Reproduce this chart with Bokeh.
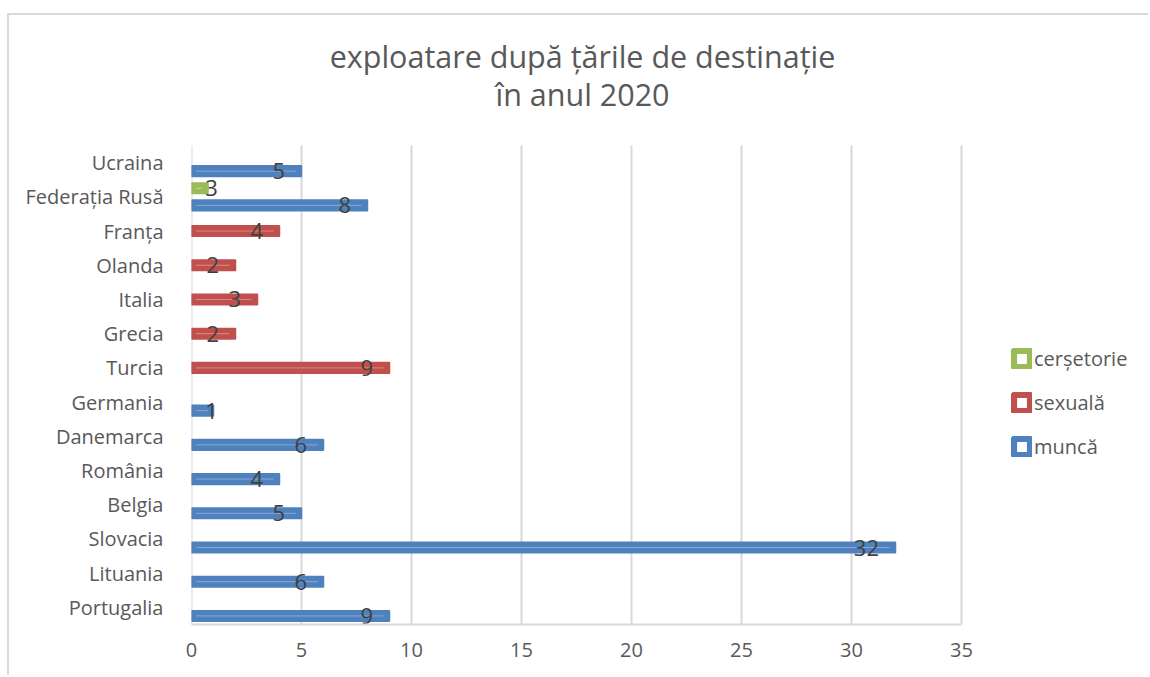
from bokeh.plotting import figure
from bokeh.models import (ColumnDataSource, Range1d, FixedTicker,
                          Legend, LegendItem, Label)
from bokeh.transform import dodge
from bokeh.core.properties import value
from bokeh.embed import file_html
from bokeh.resources import INLINE

# ---------------- data (bottom to top) ----------------
tari = ["Portugalia", "Lituania", "Slovacia", "Belgia", "România", "Danemarca",
        "Germania", "Turcia", "Grecia", "Italia", "Olanda", "Franța",
        "Federația Rusă", "Ucraina"]
munca = [9, 6, 32, 5, 4, 6, 1, None, None, None, None, None, 8, 5]
sexuala = [None, None, None, None, None, None, None, 9, 2, 3, 2, 4, None, None]
# bar length as drawn in the picture, and the label that the picture shows
cersetorie = [None] * 12 + [0.75, None]
cersetorie_etichete = [None] * 12 + ["3", None]

serii = ["cerșetorie", "sexuală", "muncă"]
x_ticks = [0, 5, 10, 15, 20, 25, 30, 35]
titlu = ["exploatare după țările de destinație", "în anul 2020"]

culori = {"muncă": "#4f81bd", "sexuală": "#c0504d", "cerșetorie": "#9bbb59"}
luminoase = {"muncă": "#86a9d8", "sexuală": "#dc8a88", "cerșetorie": "#c3d89a"}
deplasari = {"muncă": -0.25, "sexuală": 0.0, "cerșetorie": 0.25}

FONT = "Open Sans"
GRAY = "#595959"

W, H = 1141, 662
X_END = 43.59      # frame extends to the right edge (legend lives inside it)
Y_END = 17.8       # frame extends to the top edge (title lives inside it)

p = figure(width=W, height=H, output_backend="svg", toolbar_location=None,
           x_range=Range1d(0, X_END), y_range=Range1d(0, Y_END),
           min_border_left=182, min_border_right=0, min_border_top=0,
           min_border_bottom=53, outline_line_color=None)
p.styles = {"margin-left": "7px", "margin-top": "13px",
            "border-top": "2px solid #d9d9d9",
            "border-left": "2px solid #d9d9d9"}

p.xgrid.grid_line_color = None
p.ygrid.grid_line_color = None

# vertical grid lines over the category area
n = len(tari)
p.segment(x0=x_ticks, y0=[0] * len(x_ticks), x1=x_ticks, y1=[n] * len(x_ticks),
          line_color="#d9d9d9", line_width=2)

p.xaxis.ticker = FixedTicker(ticks=x_ticks)
p.xaxis.bounds = (x_ticks[0], x_ticks[-1])
p.xaxis.axis_line_color = "#d9d9d9"
p.xaxis.axis_line_width = 2
p.xaxis.major_tick_line_color = None
p.xaxis.minor_tick_line_color = None
p.xaxis.major_label_text_font = FONT
p.xaxis.major_label_text_font_size = "20px"
p.xaxis.major_label_text_color = GRAY
p.xaxis.major_label_standoff = 12

pozitii = [i + 0.5 for i in range(n)]
p.yaxis.ticker = FixedTicker(ticks=pozitii)
p.yaxis.major_label_overrides = {pos: t for pos, t in zip(pozitii, tari)}
p.yaxis.axis_line_color = None
p.yaxis.major_tick_line_color = None
p.yaxis.minor_tick_line_color = None
p.yaxis.major_label_text_font = FONT
p.yaxis.major_label_text_font_size = "20px"
p.yaxis.major_label_text_color = GRAY
p.yaxis.major_label_standoff = 22

date = {"muncă": (munca, None), "sexuală": (sexuala, None),
        "cerșetorie": (cersetorie, cersetorie_etichete)}

for s in ["muncă", "sexuală", "cerșetorie"]:
    vals, labs = date[s]
    ys, xs, x0s, x1s, lx, txt = [], [], [], [], [], []
    for i, v in enumerate(vals):
        if v is None:
            continue
        ys.append(pozitii[i])
        xs.append(v)
        x0s.append(0.2)
        x1s.append(max(v - 0.27, 0.45))
        lx.append(max(v - 0.75, 1.2))
        txt.append(labs[i] if labs is not None else str(int(v)))
    src = ColumnDataSource(dict(y=ys, v=xs, x0=x0s, x1=x1s, lx=lx, t=txt))
    yd = dodge("y", deplasari[s])
    p.hbar(y=yd, left=0, right="v", height=0.31, source=src,
           fill_color=culori[s], line_color=culori[s], line_width=1.5)
    p.segment(x0="x0", y0=yd, x1="x1", y1=yd, source=src,
              line_color=luminoase[s], line_width=1)
    p.text(x="lx", y=yd, text="t", source=src, text_font=value(FONT),
           text_font_size=value("22px"), text_align="right",
           text_baseline="middle", text_color="#404040")

# legend swatches: hollow squares (glyphs placed outside the visible ranges)
legend_items = []
for s in serii:
    r = p.quad(left=[-10], right=[-9], top=[-9], bottom=[-10],
               fill_color="white", line_color=culori[s], line_width=7)
    legend_items.append(LegendItem(label=s, renderers=[r]))

legend = Legend(items=legend_items, location=(820, 164), orientation="vertical",
                glyph_width=21, glyph_height=21, label_standoff=2,
                label_text_font=FONT, label_text_font_size="20px",
                label_text_color=GRAY, label_height=24, spacing=17,
                padding=0, margin=0, border_line_alpha=0,
                background_fill_alpha=0)
p.add_layout(legend)

# title (two lines), positioned relative to the plot frame
for txt, yy in zip(titlu, [569, 531]):
    p.add_layout(Label(x=391, y=yy, x_units="screen", y_units="screen",
                       text=txt, text_align="center", text_baseline="middle",
                       text_font=FONT, text_font_size="30.5px",
                       text_color=GRAY))

open("out.html", "w").write(file_html(p, INLINE))
